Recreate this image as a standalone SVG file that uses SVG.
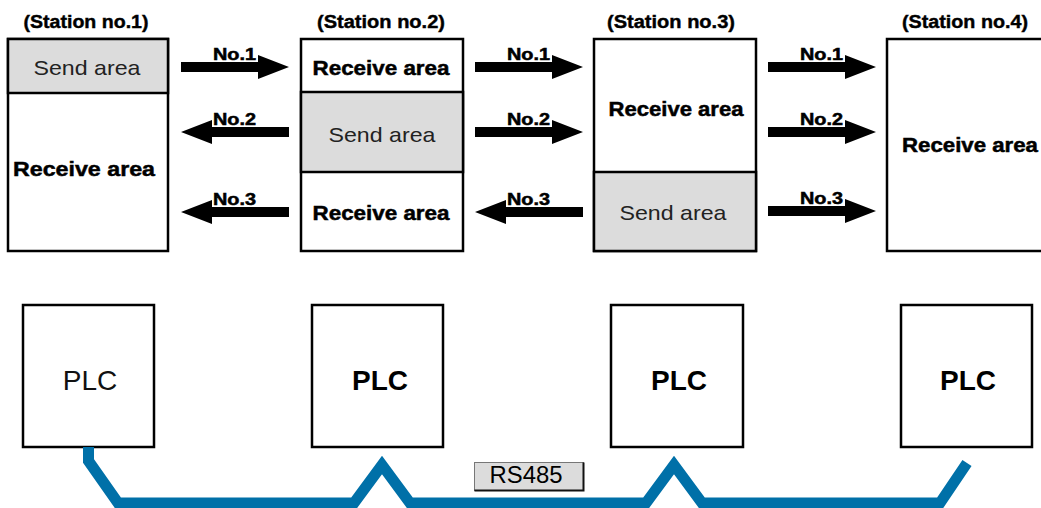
<svg xmlns="http://www.w3.org/2000/svg" xmlns:xlink="http://www.w3.org/1999/xlink" width="1041" height="508" viewBox="0 0 1041 508">
<style>
.box{fill:#fff;stroke:#000;stroke-width:2.5}
.send{fill:#dcdcdc;stroke:#000;stroke-width:2.5}
.t{font-family:"Liberation Sans",Arial,sans-serif;fill:#000;text-anchor:middle}
.st{font-size:18px;font-weight:bold;stroke:#000;stroke-width:0.4}
.rcv{font-size:21px;font-weight:bold;stroke:#000;stroke-width:0.5}
.snd{font-size:21px;fill:#222}
.no{font-size:16px;font-weight:bold;text-anchor:start;stroke:#000;stroke-width:0.5}
.plc{font-size:28px;fill:#111}
.plcb{font-size:28px;font-weight:bold}
.bus{fill:none;stroke:#0070a8;stroke-width:11;stroke-linejoin:miter;stroke-miterlimit:10}
.arr{fill:#000}
</style>
<defs>
<path id="ar" class="arr" d="M0,-5 H77 V-12 L108,0 L77,12 V5 H0 Z"/>
</defs>

<g id="station1">
<text class="t st" x="86" y="28" textLength="125" lengthAdjust="spacingAndGlyphs">(Station no.1)</text>
<rect class="box" x="8" y="39" width="160" height="212"/>
<rect class="send" x="8" y="39" width="160" height="54"/>
<text class="t snd" x="87" y="75" textLength="107" lengthAdjust="spacingAndGlyphs">Send area</text>
<text class="t rcv" x="84" y="176" textLength="142" lengthAdjust="spacingAndGlyphs">Receive area</text>
</g>

<g id="station2">
<text class="t st" x="381" y="28" textLength="128" lengthAdjust="spacingAndGlyphs">(Station no.2)</text>
<rect class="box" x="301" y="39" width="162" height="212"/>
<rect class="send" x="301" y="92" width="162" height="80"/>
<text class="t rcv" x="381" y="75" textLength="137" lengthAdjust="spacingAndGlyphs">Receive area</text>
<text class="t snd" x="382" y="142" textLength="107" lengthAdjust="spacingAndGlyphs">Send area</text>
<text class="t rcv" x="381" y="220" textLength="137" lengthAdjust="spacingAndGlyphs">Receive area</text>
</g>

<g id="station3">
<text class="t st" x="671" y="28" textLength="128" lengthAdjust="spacingAndGlyphs">(Station no.3)</text>
<rect class="box" x="594" y="39" width="162" height="212"/>
<rect class="send" x="594" y="172" width="162" height="79"/>
<text class="t rcv" x="676" y="116" textLength="135" lengthAdjust="spacingAndGlyphs">Receive area</text>
<text class="t snd" x="673" y="220" textLength="107" lengthAdjust="spacingAndGlyphs">Send area</text>
</g>

<g id="station4">
<text class="t st" x="965" y="28" textLength="126" lengthAdjust="spacingAndGlyphs">(Station no.4)</text>
<rect class="box" x="887" y="39" width="170" height="212"/>
<text class="t rcv" x="970" y="152" textLength="136" lengthAdjust="spacingAndGlyphs">Receive area</text>
</g>

<g id="plc1">
<rect class="box" x="23" y="305" width="131" height="142" stroke-width="2"/>
<text class="t plc" x="90" y="390">PLC</text>
</g>
<g id="plc2">
<rect class="box" x="312" y="305" width="131" height="142" stroke-width="2"/>
<text class="t plcb" x="380" y="390">PLC</text>
</g>
<g id="plc3">
<rect class="box" x="611" y="305" width="132" height="142" stroke-width="2"/>
<text class="t plcb" x="679" y="390">PLC</text>
</g>
<g id="plc4">
<rect class="box" x="901" y="305" width="131" height="142" stroke-width="2"/>
<text class="t plcb" x="968" y="390">PLC</text>
</g>

<g id="connectors">
<use xlink:href="#ar" x="181" y="67"/>
<g transform="translate(289,132) scale(-1,1)"><use xlink:href="#ar"/></g>
<g transform="translate(289,212) scale(-1,1)"><use xlink:href="#ar"/></g>
<text class="t no" x="213" y="60" textLength="43" lengthAdjust="spacingAndGlyphs">No.1</text>
<text class="t no" x="213" y="125" textLength="43" lengthAdjust="spacingAndGlyphs">No.2</text>
<text class="t no" x="213" y="205" textLength="43" lengthAdjust="spacingAndGlyphs">No.3</text>

<use xlink:href="#ar" x="475" y="67"/>
<use xlink:href="#ar" x="475" y="132"/>
<g transform="translate(583,212) scale(-1,1)"><use xlink:href="#ar"/></g>
<text class="t no" x="507" y="60" textLength="43" lengthAdjust="spacingAndGlyphs">No.1</text>
<text class="t no" x="507" y="125" textLength="43" lengthAdjust="spacingAndGlyphs">No.2</text>
<text class="t no" x="507" y="205" textLength="43" lengthAdjust="spacingAndGlyphs">No.3</text>

<use xlink:href="#ar" x="768" y="67"/>
<use xlink:href="#ar" x="768" y="132"/>
<use xlink:href="#ar" x="768" y="211"/>
<text class="t no" x="800" y="60" textLength="43" lengthAdjust="spacingAndGlyphs">No.1</text>
<text class="t no" x="800" y="125" textLength="43" lengthAdjust="spacingAndGlyphs">No.2</text>
<text class="t no" x="800" y="204" textLength="43" lengthAdjust="spacingAndGlyphs">No.3</text>

<path class="bus" d="M88.5,447 V461 L118,503 H354 L382,465 L410,503 H646 L674,465 L702,503 H940 L967,463"/>
</g>

<g id="rs485">
<rect x="474.5" y="462.5" width="109" height="28" fill="#dcdcdc" stroke="#777" stroke-width="1"/>
<path d="M474.5,490.5 H583.5 V462.5" fill="none" stroke="#111" stroke-width="2"/>
<text class="t" x="526" y="483" font-size="23" textLength="73" lengthAdjust="spacingAndGlyphs">RS485</text>
</g>
</svg>
